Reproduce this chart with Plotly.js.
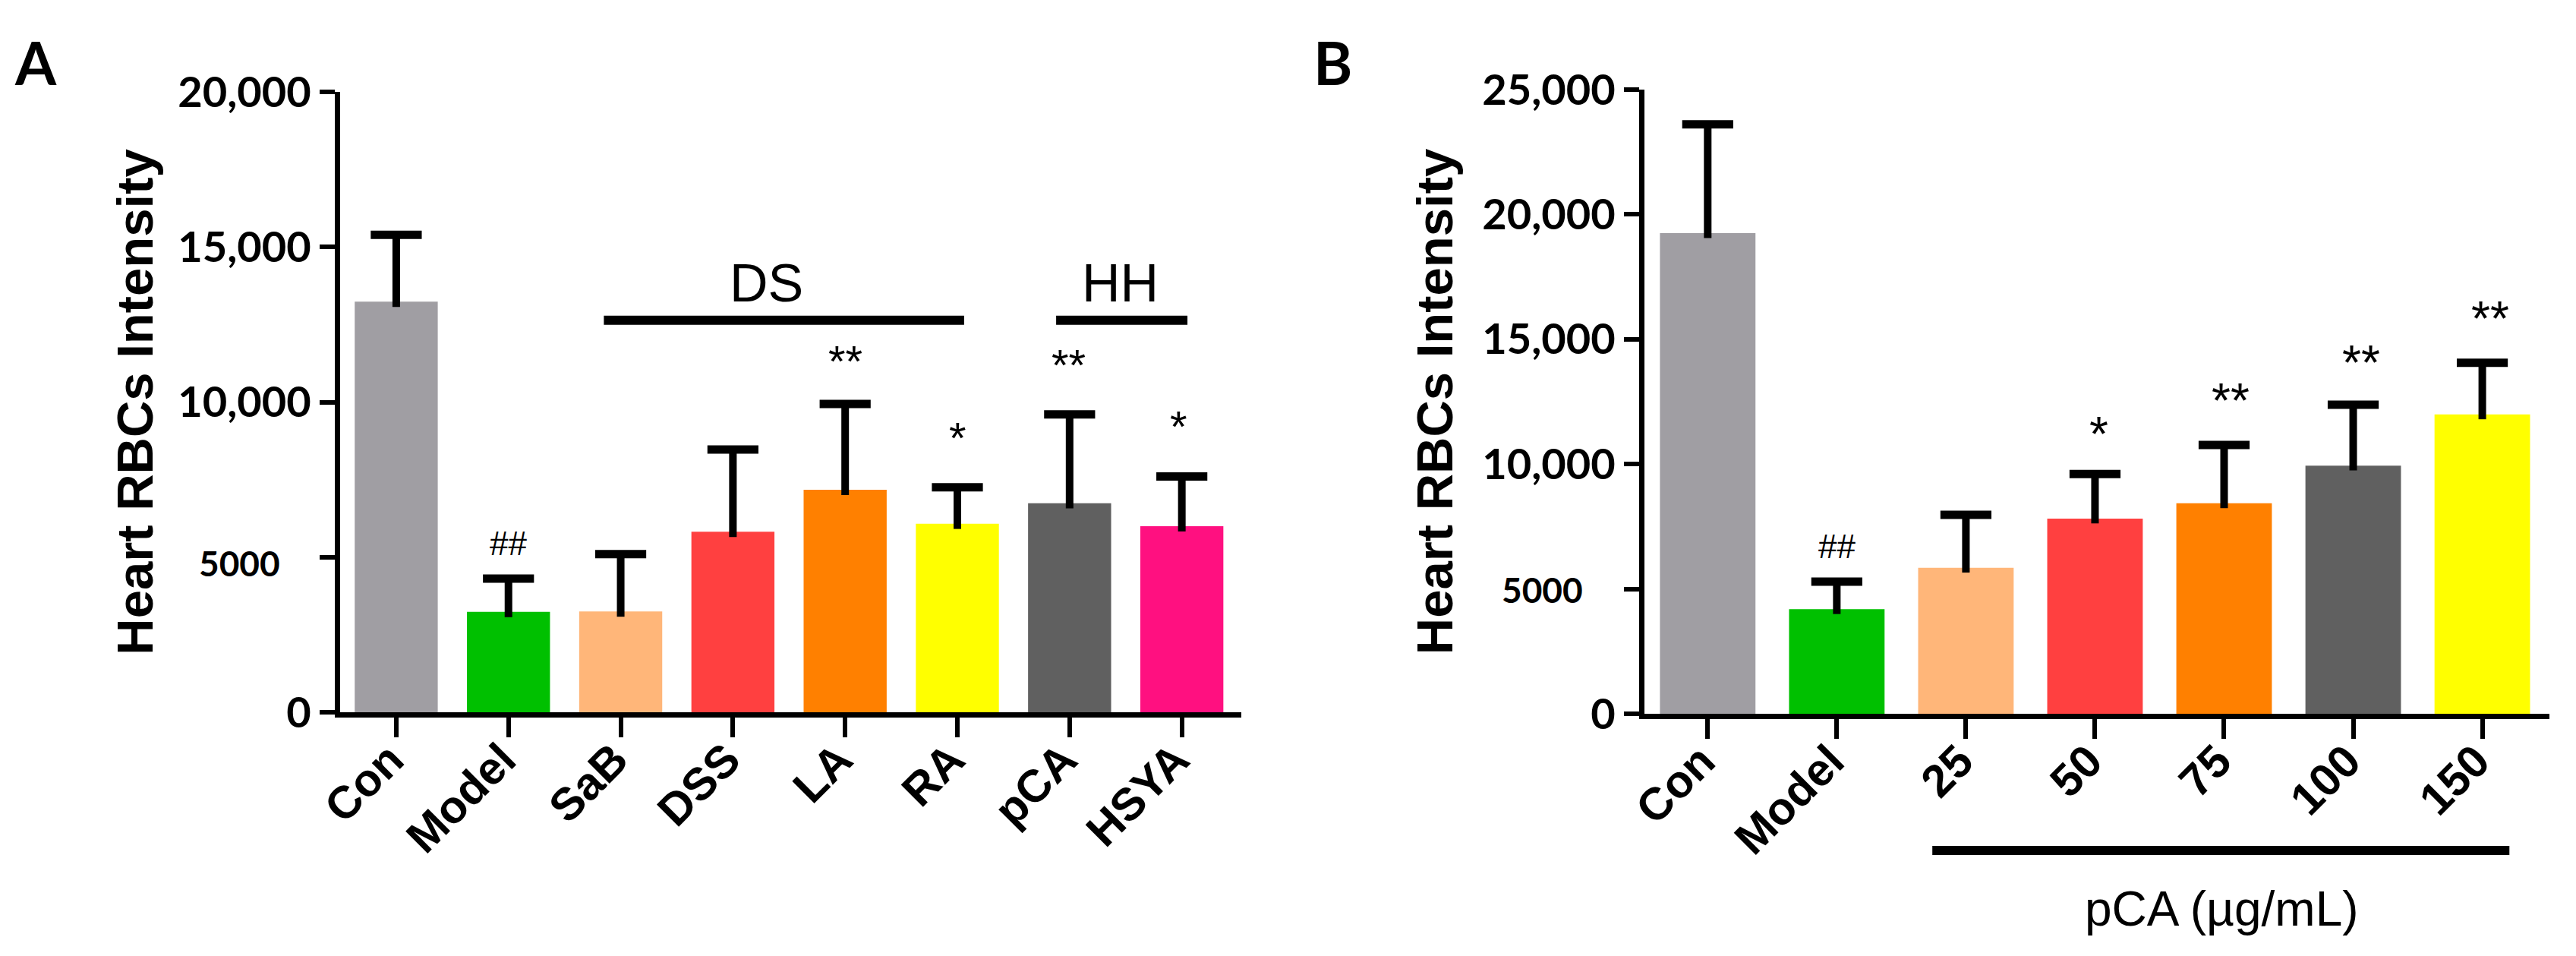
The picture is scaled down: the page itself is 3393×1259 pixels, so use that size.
<!DOCTYPE html>
<html>
<head>
<meta charset="utf-8">
<script src="https://cdn.plot.ly/plotly-3.0.1.min.js"></script>
<style>html,body{margin:0;padding:0;background:#fff}</style>
</head>
<body>
<div id="myDiv" style="width:3393px;height:1259px"></div>
<script>
// panel A
let catA = ['Con','Model','SaB','DSS','LA','RA','pCA','HSYA'];
let valA = [13235,3235,3250,5820,7170,6080,6740,6000];
let errA = [2155,1075,1850,2650,2770,1170,2860,1600];
let colA = ['#A09EA3','#00C000','#FFB679','#FF4040','#FF8000','#FFFF00','#606060','#FF1080'];

// panel B
let catB = ['Con','Model','25','50','75','100','150'];
let valB = [19250,4190,5850,7820,8430,9940,11990];
let errB = [4360,1100,2120,1780,2340,2440,2070];
let colB = ['#A09EA3','#00C000','#FFB679','#FF4040','#FF8000','#606060','#FFFF00'];

let tickA = [0,5000,10000,15000,20000];
let tickB = [0,5000,10000,15000,20000,25000];
// 5000 is set smaller in the original, it goes in as an annotation
let tickTextA = ['0','','10,000','15,000','20,000'];
let tickTextB = ['0','','10,000','15,000','20,000','25,000'];

// significance marks: [x, y, text]
let marksA = [[1,5450,'##'],[4,11330,'**'],[5,8860,'*'],[5.99,11200,'**'],[6.97,9210,'*']];
let marksB = [[1,6700,'##'],[3.03,11180,'*'],[4.05,12520,'**'],[5.06,14060,'**'],[6.06,15810,'**']];

// group lines: [x0, x1, y]
let groupA = [[1.85,5.06,12640],[5.88,7.05,12640]];
// pCA line runs under the axis, x only
let groupB = [1.74,6.21];

let W = 3393, H = 1259;
let arial = '"Liberation Sans", Arial, sans-serif';
let calibri = 'Lato, sans-serif';

function indexes(arr) {
  let out = [];
  for (let i = 0; i < arr.length; i++) { out.push(i); }
  return out;
}

function fill(arr, v) {
  let out = [];
  for (let i = 0; i < arr.length; i++) { out.push(v); }
  return out;
}

function addUp(a, b) {
  let out = [];
  for (let i = 0; i < a.length; i++) { out.push(a[i] + b[i]); }
  return out;
}

function barTrace(cat, val, err, col, xa, ya, inBar) {
  return {
    type: 'bar',
    x: indexes(cat),
    y: val,
    xaxis: xa,
    yaxis: ya,
    marker: {color: col, line: {width: 0}},
    // stem only, the caps are drawn by capTrace (error_y would also put one on the lower end)
    error_y: {type: 'data', symmetric: false, array: err, arrayminus: fill(err, inBar), color: '#000', thickness: 10, width: 0},
    hoverinfo: 'skip',
    showlegend: false
  };
}

function capTrace(cat, val, err, xa, ya) {
  return {
    type: 'scatter',
    mode: 'markers',
    x: indexes(cat),
    y: addUp(val, err),
    xaxis: xa,
    yaxis: ya,
    marker: {symbol: 'line-ew', size: 48, color: '#000', line: {color: '#000', width: 11}},
    hoverinfo: 'skip',
    showlegend: false
  };
}

function xAxis(cat, range, x0, x1, anchor) {
  return {
    domain: [x0 / W, x1 / W],
    anchor: anchor,
    range: range,
    tickvals: indexes(cat),
    ticktext: cat,
    tickangle: -45,
    tickfont: {family: arial, size: 60, color: '#000', weight: 700},
    ticklabelstandoff: -30,
    ticklabelshift: -8,
    ticks: 'outside',
    ticklen: 26,
    tickwidth: 6,
    tickcolor: '#000',
    showline: true,
    linewidth: 7,
    linecolor: '#000',
    showgrid: false,
    zeroline: false
  };
}

function yAxis(vals, text, range, top, bottom, anchor, standoff) {
  return {
    domain: [(H - bottom) / H, (H - top) / H],
    anchor: anchor,
    range: range,
    tickvals: vals,
    ticktext: text,
    tickfont: {family: calibri, size: 56, color: '#000', weight: 700},
    ticks: 'outside',
    ticklen: 20,
    tickwidth: 6,
    tickcolor: '#000',
    showline: true,
    linewidth: 7,
    linecolor: '#000',
    showgrid: false,
    zeroline: false,
    title: {text: 'Heart RBCs Intensity', font: {family: arial, size: 67, color: '#000', weight: 700}, standoff: standoff}
  };
}

let annotations = [];
function addMarks(marks, xa, ya, size) {
  marks.forEach(function (m) {
    annotations.push({
      x: m[0], y: m[1], xref: xa, yref: ya, text: m[2], showarrow: false,
      font: {family: arial, size: m[2] === '##' ? 44 : size, color: '#000'}
    });
  });
}
addMarks(marksA, 'x', 'y', 58);
addMarks(marksB, 'x2', 'y2', 64);

annotations.push({x: 3.3, y: 13820, xref: 'x', yref: 'y', text: 'DS', showarrow: false, font: {family: arial, size: 70, color: '#000'}});
annotations.push({x: 6.45, y: 13820, xref: 'x', yref: 'y', text: 'HH', showarrow: false, font: {family: arial, size: 70, color: '#000'}});
annotations.push({x: 3.98, y: (H - 1197) / H, xref: 'x2', yref: 'paper', yanchor: 'middle', text: 'pCA (µg/mL)', showarrow: false, font: {family: arial, size: 64, color: '#000'}});
annotations.push({x: 47 / W, y: (H - 82) / H, xref: 'paper', yref: 'paper', xanchor: 'center', yanchor: 'middle', text: 'A', showarrow: false, font: {family: calibri, size: 78, color: '#000', weight: 700}});
annotations.push({x: 1755 / W, y: (H - 82) / H, xref: 'paper', yref: 'paper', xanchor: 'center', yanchor: 'middle', text: 'B', showarrow: false, font: {family: calibri, size: 78, color: '#000', weight: 700}});
annotations.push({x: 371 / W, y: 4800, xref: 'paper', yref: 'y', xanchor: 'right', text: '5000', showarrow: false, font: {family: calibri, size: 46, color: '#000', weight: 700}});
annotations.push({x: 2087 / W, y: 4970, xref: 'paper', yref: 'y2', xanchor: 'right', text: '5000', showarrow: false, font: {family: calibri, size: 46, color: '#000', weight: 700}});

let shapes = [];
groupA.forEach(function (g) {
  shapes.push({type: 'line', xref: 'x', yref: 'y', x0: g[0], x1: g[1], y0: g[2], y1: g[2], line: {color: '#000', width: 12}});
});
shapes.push({type: 'line', xref: 'x2', yref: 'paper', x0: groupB[0], x1: groupB[1], y0: (H - 1120) / H, y1: (H - 1120) / H, line: {color: '#000', width: 12}});

let data = [
  barTrace(catA, valA, errA, colA, 'x', 'y', 170),
  capTrace(catA, valA, errA, 'x', 'y'),
  barTrace(catB, valB, errB, colB, 'x2', 'y2', 195),
  capTrace(catB, valB, errB, 'x2', 'y2')
];

let layout = {
  width: W,
  height: H,
  margin: {l: 0, r: 0, t: 0, b: 0},
  paper_bgcolor: '#fff',
  plot_bgcolor: '#fff',
  bargap: 0.26,
  xaxis: xAxis(catA, [-0.5, 7.53], 448, 1635, 'y'),
  yaxis: yAxis(tickA, tickTextA, [0, 20000], 121, 938, 'x', 13),
  xaxis2: xAxis(catB, [-0.49, 6.52], 2166, 3358, 'y2'),
  yaxis2: yAxis(tickB, tickTextB, [0, 25000], 118, 940, 'x2', 19),
  annotations: annotations,
  shapes: shapes
};

Plotly.newPlot('myDiv', data, layout, {displayModeBar: false});
</script>
</body>
</html>
